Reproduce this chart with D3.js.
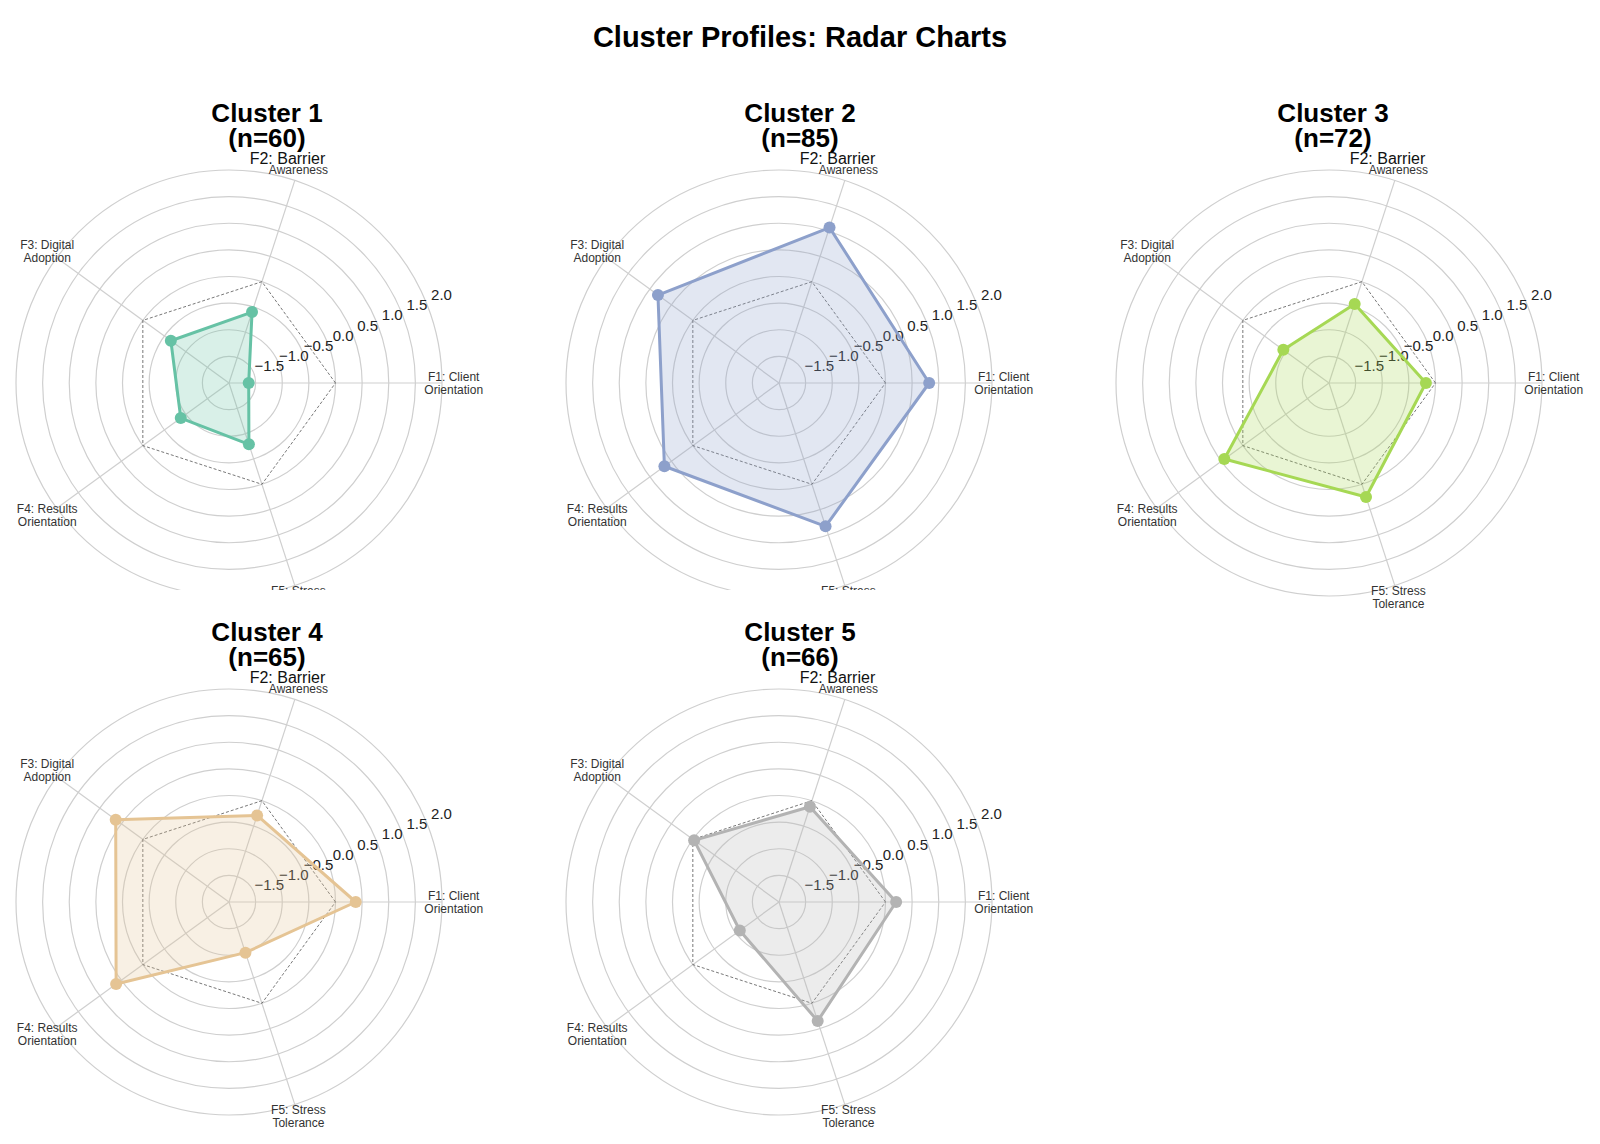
<!DOCTYPE html>
<html><head><meta charset="utf-8">
<script src="https://cdn.jsdelivr.net/npm/d3@7"></script>
<style>body{margin:0;background:#fff}text{font-family:Arial,"Liberation Sans",sans-serif}</style>
</head><body><svg id="c" width="1600" height="1144"></svg>
<script>
const factors = ["F1: Client|Orientation","F2: Barrier|Awareness","F3: Digital|Adoption","F4: Results|Orientation","F5: Stress|Tolerance"];
const clusterNames = ["Cluster 1","Cluster 2","Cluster 3","Cluster 4","Cluster 5"];
const clusterSizes = [60,85,72,65,66];
const cluster1 = [-1.63,-0.60,-0.65,-0.88,-0.79];
const cluster2 = [0.82,1.07,0.81,0.66,0.83];
const cluster3 = [-0.18,-0.44,-0.94,0.43,0.25];
const cluster4 = [0.38,-0.29,0.63,0.62,-1.00];
const cluster5 = [0.20,-0.12,-0.03,-1.09,0.35];
const tickValues = [-1.5,-1.0,-0.5,0.0,0.5,1.0,1.5,2.0];
const colors = ["#66c2a5","#8da0cb","#a6d854","#e5c494","#b3b3b3"];
const series = [cluster1,cluster2,cluster3,cluster4,cluster5];

const svg = d3.select("#c");
svg.append("text").attr("x",800).attr("y",47).attr("text-anchor","middle")
  .attr("font-size",29).attr("font-weight","bold").text("Cluster Profiles: Radar Charts");

const R = 213;
const r = d3.scaleLinear().domain([-2,2]).range([0,R]);
const ang = d3.scaleLinear().domain([0,5]).range([0,2*Math.PI]);
const centers = [[229,383],[779,383],[1329,383],[229,902],[779,902]];
const titleX = [267,800,1333,267,800];
const pt = (v,i)=>[r(v)*Math.cos(ang(i)), -r(v)*Math.sin(ang(i))];

series.forEach((vals,k)=>{
  const [cx,cy] = centers[k];
  if (k===3) svg.append("rect").attr("x",0).attr("y",590).attr("width",1080).attr("height",30).attr("fill","#fff");
  const g = svg.append("g").attr("transform",`translate(${cx},${cy})`);
  svg.append("text").attr("x",titleX[k]).attr("y",cy-261).attr("text-anchor","middle")
    .attr("font-size",26).attr("font-weight","bold").text(clusterNames[k]);
  svg.append("text").attr("x",titleX[k]).attr("y",cy-236).attr("text-anchor","middle")
    .attr("font-size",26).attr("font-weight","bold").text(`(n=${clusterSizes[k]})`);
  g.selectAll("circle.grid").data(tickValues).join("circle").attr("class","grid")
    .attr("r",d=>r(d)).attr("fill","none").attr("stroke","#cfcfcf").attr("stroke-width",1.2);
  g.selectAll("line.spoke").data(factors).join("line").attr("class","spoke")
    .attr("x1",0).attr("y1",0).attr("x2",(d,i)=>pt(2,i)[0]).attr("y2",(d,i)=>pt(2,i)[1])
    .attr("stroke","#cfcfcf").attr("stroke-width",1.2);
  const line = d3.line().curve(d3.curveLinearClosed);
  g.append("path").attr("d",line(factors.map((d,i)=>pt(0,i)))).attr("fill","none")
    .attr("stroke","#555").attr("stroke-width",0.8).attr("stroke-dasharray","3,2");
  const ta = 22.5*Math.PI/180;
  g.selectAll("text.tick").data(tickValues).join("text").attr("class","tick")
    .attr("x",d=>(r(d)+17)*Math.cos(ta)).attr("y",d=>-(r(d)+17)*Math.sin(ta)+5)
    .attr("text-anchor","middle").attr("font-size",15).attr("fill","#222")
    .text(d=>d3.format(".1f")(d).replace("-","\u2212"));
  const pts = vals.map((v,i)=>pt(v,i));
  g.append("path").attr("d",line(pts)).attr("fill",colors[k]).attr("fill-opacity",0.25)
    .attr("stroke",colors[k]).attr("stroke-width",3).attr("stroke-linejoin","round");
  g.selectAll("circle.dot").data(pts).join("circle").attr("class","dot")
    .attr("cx",d=>d[0]).attr("cy",d=>d[1]).attr("r",6).attr("fill",colors[k]);
  factors.forEach((f,i)=>{
    const [a,b] = f.split("|");
    const [x,y] = pt(2.22,i);
    if (i===1){
      g.append("text").attr("x",x-11).attr("y",y-5).attr("text-anchor","middle").attr("font-size",16).attr("fill","#111").text(a);
      g.append("text").attr("x",x).attr("y",y+5).attr("text-anchor","middle").attr("font-size",12).attr("fill","#333").text(b);
    } else {
      g.append("text").attr("x",x).attr("y",y-2).attr("text-anchor","middle").attr("font-size",12).attr("fill","#333").text(a);
      g.append("text").attr("x",x).attr("y",y+11).attr("text-anchor","middle").attr("font-size",12).attr("fill","#333").text(b);
    }
  });
});
</script></body></html>
